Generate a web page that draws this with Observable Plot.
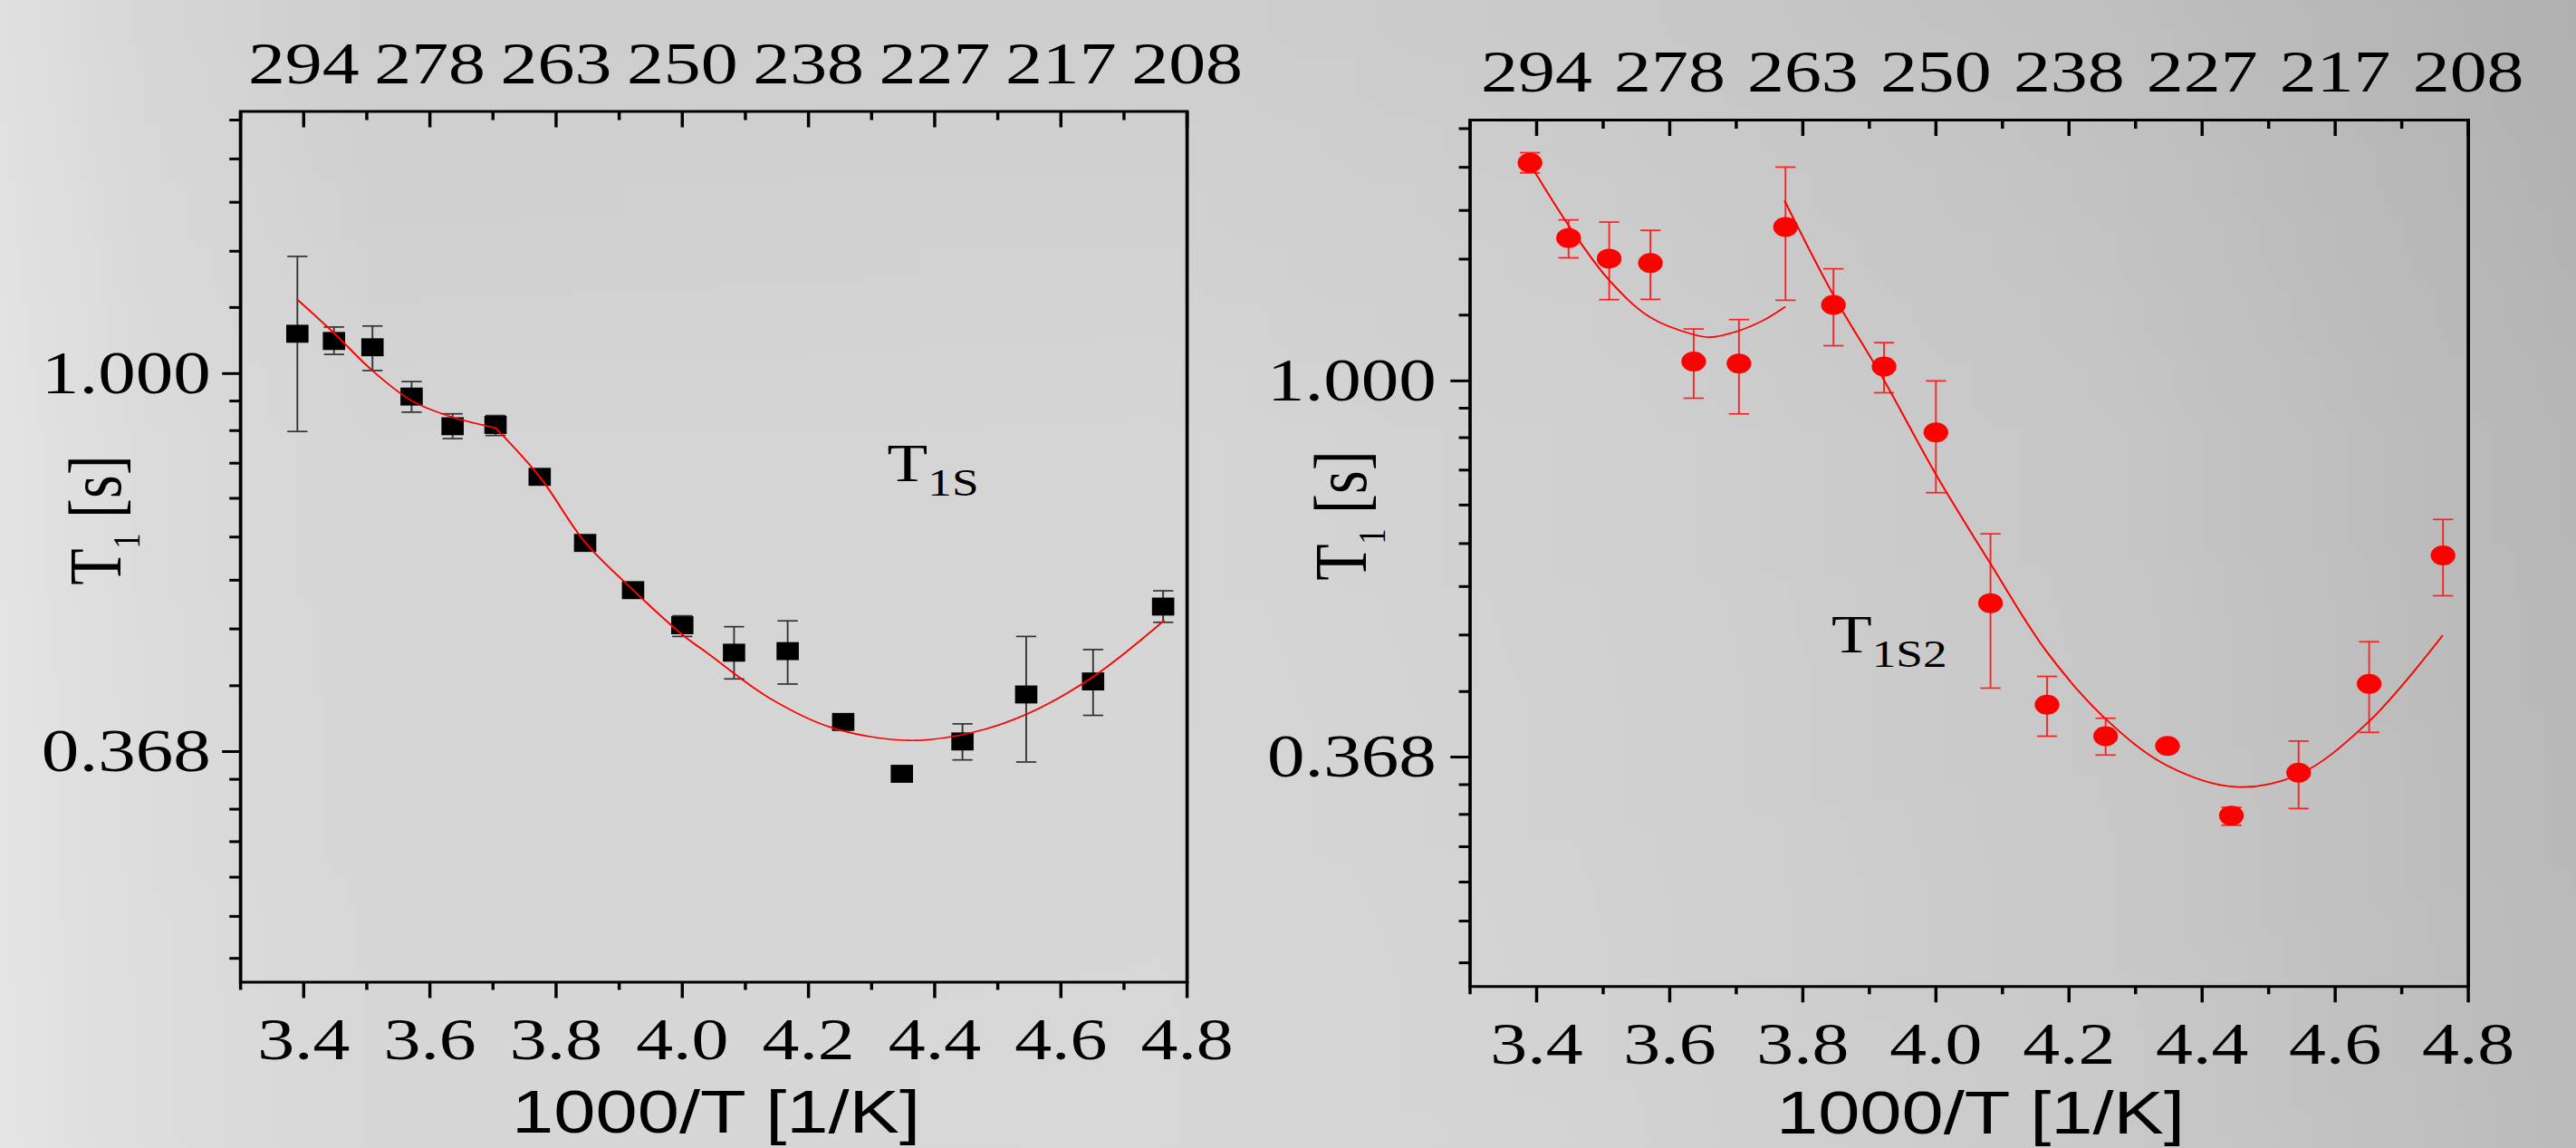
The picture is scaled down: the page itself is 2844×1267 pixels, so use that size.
<!DOCTYPE html>
<html>
<head>
<meta charset="utf-8">
<script src="https://cdn.jsdelivr.net/npm/d3@7"></script>
<script src="https://cdn.jsdelivr.net/npm/@observablehq/plot@0.6"></script>
<style>
  html, body { margin: 0; padding: 0; }
  #fig {
    position: relative; width: 2844px; height: 1267px; overflow: hidden;
    background:
      linear-gradient(to right, rgba(240,240,240,0.55) 0px, rgba(240,240,240,0.25) 160px, rgba(240,240,240,0) 420px),
      linear-gradient(to bottom, rgba(0,0,0,0.035) 0%, rgba(0,0,0,0) 40%, rgba(255,255,255,0.06) 100%),
      linear-gradient(to right, #d4d4d4 0%, #d5d5d5 45%, #d0d0d0 62%, #c6c6c6 82%, #b6b6b6 100%);
  }
</style>
</head>
<body>
<div id="fig"></div>
<script>
// ---- data ----
const invT = [3.390, 3.448, 3.509, 3.571, 3.636, 3.704, 3.774, 3.846, 3.922, 4.000, 4.082, 4.167, 4.255, 4.348, 4.444, 4.545, 4.651, 4.762];

const t1s   = [1.111, 1.090, 1.072, 0.941, 0.870, 0.873, 0.761, 0.639, 0.564, 0.514, 0.478, 0.480, 0.398, 0.347, 0.378, 0.428, 0.443, 0.540];
const t1sLo = [0.858, 1.052, 1.008, 0.903, 0.842, 0.849, null, null, null, 0.499, 0.446, 0.440, null, null, 0.360, 0.358, 0.405, 0.518];
const t1sHi = [1.363, 1.131, 1.134, 0.979, 0.899, 0.895, null, null, null, 0.527, 0.512, 0.520, null, null, 0.396, 0.499, 0.482, 0.563];

const t1s2   = [1.785, 1.462, 1.384, 1.368, 1.053, 1.047, 1.505, 1.224, 1.039, 0.872, 0.554, 0.423, 0.389, 0.379, 0.315, 0.353, 0.447, 0.629];
const t1s2Lo = [1.738, 1.387, 1.241, 1.242, 0.955, 0.916, 1.239, 1.098, 0.969, 0.743, 0.442, 0.389, 0.370, null, 0.307, 0.321, 0.393, 0.565];
const t1s2Hi = [1.834, 1.534, 1.525, 1.492, 1.148, 1.177, 1.765, 1.347, 1.107, 1.000, 0.666, 0.456, 0.408, null, 0.322, 0.384, 0.500, 0.692];

// fitted curves
const fitSAx = [3.390, 3.448, 3.510, 3.572, 3.636, 3.704];
const fitSAy = [1.216, 1.113, 1.006, 0.930, 0.891, 0.866];
const fitSBx = [3.704, 3.774, 3.846, 3.920, 4.002, 4.039, 4.138, 4.237, 4.360, 4.459, 4.548, 4.652, 4.763];
const fitSBy = [0.866, 0.761, 0.640, 0.566, 0.500, 0.478, 0.424, 0.392, 0.379, 0.387, 0.407, 0.449, 0.520];

const fitS2Ax = [3.390, 3.448, 3.509, 3.570, 3.636, 3.661, 3.703, 3.741, 3.773];
const fitS2Ay = [1.780, 1.512, 1.307, 1.185, 1.131, 1.123, 1.142, 1.175, 1.217];
const fitS2Bx = [3.773, 3.846, 3.921, 4.000, 4.081, 4.166, 4.254, 4.347, 4.450, 4.544, 4.650, 4.761];
const fitS2By = [1.612, 1.256, 1.005, 0.780, 0.617, 0.4875, 0.408, 0.360, 0.340, 0.351, 0.404, 0.508];

// ticks and labels
const xMajor = [3.4, 3.6, 3.8, 4.0, 4.2, 4.4, 4.6, 4.8];
const xMinor = [3.3, 3.5, 3.7, 3.9, 4.1, 4.3, 4.5, 4.7];
const topLabels = ["294", "278", "263", "250", "238", "227", "217", "208"];
const yMajor = [1.000, 0.368];
const yMajorLabels = ["1.000", "0.368"];
const yMinor = [1.955, 1.764, 1.573, 1.382, 1.191, 0.930, 0.860, 0.789, 0.719, 0.649, 0.579, 0.509, 0.438, 0.342, 0.316, 0.290, 0.264, 0.238, 0.213];
const xLabel = "1000/T [1/K]";

// ---- drawing ----
const S = 1.24; // horizontal stretch of the original figure
const serif = "Liberation Serif, Times New Roman, serif";
const sans = "Liberation Sans, Arial, sans-serif";
const capSymbol = { draw(ctx, size) { const r = Math.sqrt(size / Math.PI); ctx.moveTo(-r, 0); ctx.lineTo(r, 0); } };

function makePanel(cfg) {
  const pts = invT.map((x, i) => ({x, y: cfg.y[i], lo: cfg.lo[i], hi: cfg.hi[i]}));
  const err = pts.filter(d => d.lo != null);
  const fitA = cfg.fAx.map((x, i) => ({x, y: cfg.fAy[i]}));
  const fitB = cfg.fBx.map((x, i) => ({x, y: cfg.fBy[i]}));
  const markerOpts = cfg.square
    ? {x: "x", y: "y", symbol: "square", r: 11.2, fill: "black"}
    : {x: "x", y: "y", symbol: "circle", r: 11, fill: "#ff0000"};

  const svg = Plot.plot({
    width: cfg.width, height: 1267,
    marginLeft: cfg.ml, marginRight: cfg.mr, marginTop: cfg.mt, marginBottom: cfg.mb,
    x: {domain: [3.3, 4.8], label: null},
    y: {type: "log", domain: [0.2, 2.0], label: null},
    style: {background: "transparent", overflow: "visible", fontFamily: serif, fontSize: "66px", color: "black"},
    marks: [
      Plot.ruleX(err, {x: "x", y1: "lo", y2: "hi", stroke: cfg.errColor, strokeWidth: 1.5}),
      Plot.dot(err, {x: "x", y: "lo", symbol: capSymbol, r: 9, stroke: cfg.errColor, strokeWidth: 1.7, fill: "none"}),
      Plot.dot(err, {x: "x", y: "hi", symbol: capSymbol, r: 9, stroke: cfg.errColor, strokeWidth: 1.7, fill: "none"}),
      Plot.dot(pts, markerOpts),
      Plot.line(fitA, {x: "x", y: "y", stroke: "#ff0000", strokeWidth: 1.7, curve: "catmull-rom"}),
      Plot.line(fitB, {x: "x", y: "y", stroke: "#ff0000", strokeWidth: 1.7, curve: "catmull-rom"}),
      Plot.frame({stroke: "black", strokeWidth: 3}),
      Plot.axisX({ticks: xMinor, anchor: "bottom", label: null, tickSize: 9, tickFormat: () => "", strokeWidth: 2.8}),
      Plot.axisX({ticks: xMajor, anchor: "bottom", label: null, tickSize: 18, tickPadding: 20.5, tickFormat: d => d.toFixed(1), strokeWidth: 2.8, fontSize: 66, fontFamily: serif, fill: "black"}),
      Plot.axisX({ticks: xMinor, anchor: "top", label: null, tickSize: -9, tickFormat: () => "", strokeWidth: 2.8}),
      Plot.axisX({ticks: xMajor, anchor: "top", label: null, tickSize: -17, tickFormat: () => "", strokeWidth: 2.8}),
      Plot.axisX({ticks: xMajor, anchor: "top", label: null, tickSize: 0, tickPadding: 31, tickFormat: d => topLabels[xMajor.indexOf(d)], fontSize: 66, fontFamily: serif, fill: "black"}),
      Plot.axisY({ticks: yMinor, anchor: "left", label: null, tickSize: 9.5, tickFormat: () => "", strokeWidth: 3}),
      Plot.axisY({ticks: yMajor, anchor: "left", label: null, tickSize: cfg.yTick, tickPadding: cfg.yPad, tickFormat: d => yMajorLabels[yMajor.indexOf(d)], strokeWidth: 3, fontSize: 67, fontFamily: serif, fill: "black"}),
      Plot.text([xLabel], {text: d => d, frameAnchor: "bottom", dy: cfg.xlabDy, dx: cfg.xlabDx, lineAnchor: "top", fontFamily: sans, fontSize: 67, fill: "black"})
    ]
  });

  svg.style.position = "absolute";
  svg.style.left = cfg.left + "px";
  svg.style.top = "0px";
  svg.style.transformOrigin = "0 0";
  svg.style.transform = `scaleX(${S})`;

  const s = d3.select(svg);
  // y axis title T1 [s]
  const yl = s.append("text")
    .attr("transform", `translate(${cfg.ylabX},${cfg.ylabY}) rotate(-90)`)
    .attr("text-anchor", "middle").attr("font-family", serif).attr("font-size", 66)
    .attr("fill", "black").style("white-space", "pre");
  yl.append("tspan").text("T");
  yl.append("tspan").attr("font-size", 34).attr("dy", 17).text("1");
  yl.append("tspan").attr("dy", -17).text(" [s]");

  // annotation
  const an = s.append("text")
    .attr("x", cfg.annX).attr("y", cfg.annY).attr("text-anchor", "start")
    .attr("font-family", serif).attr("font-size", 59).attr("fill", "black");
  an.append("tspan").text("T");
  an.append("tspan").attr("font-size", 43).attr("dy", 16).text(cfg.annSub);

  document.getElementById("fig").appendChild(svg);
}

makePanel({
  left: 0, width: 1340 / S, ml: 265 / S, mr: 1340 / S - 265 / S - 1045 / S, mt: 122.5, mb: 183.5,
  y: t1s, lo: t1sLo, hi: t1sHi, square: true, errColor: "#333333",
  fAx: fitSAx, fAy: fitSAy, fBx: fitSBx, fBy: fitSBy,
  yTick: 16, yPad: 10.5, xlabDy: 118, xlabDx: 2,
  ylabX: 107, ylabY: 574,
  annX: 790, annY: 530.7, annSub: "1S"
});

makePanel({
  left: 1340, width: 1504 / S, ml: (1622.4 - 1340) / S, mr: (2844 - 2724.5) / S, mt: 132, mb: 178.7,
  y: t1s2, lo: t1s2Lo, hi: t1s2Hi, square: false, errColor: "#ff2020",
  fAx: fitS2Ax, fAy: fitS2Ay, fBx: fitS2Bx, fBy: fitS2By,
  yTick: 17, yPad: 13, xlabDy: 115, xlabDx: 10,
  ylabX: 135.5, ylabY: 569,
  annX: 550, annY: 720, annSub: "1S2"
});
</script>
</body>
</html>
